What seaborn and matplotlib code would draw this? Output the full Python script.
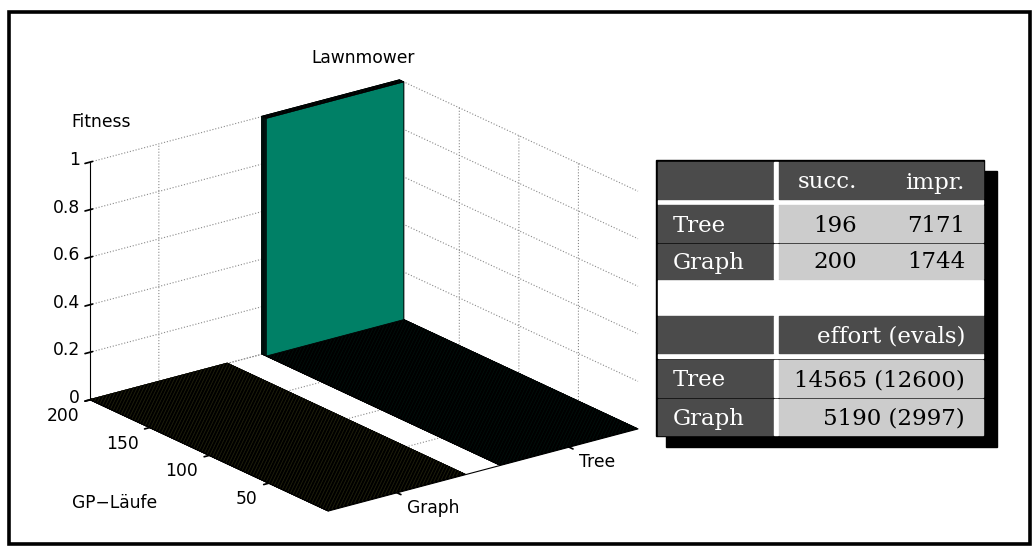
import numpy as np
import matplotlib
matplotlib.use("Agg")
import matplotlib.pyplot as plt
from matplotlib.patches import Rectangle
from mpl_toolkits.mplot3d import proj3d
import seaborn as sns

# ---------------- data ----------------
methods = ["Graph", "Tree"]              # categories along the x axis
method_colors = ["#ffff66", "#008066"]   # MATLAB "summer" end colours
n_runs = 200                             # GP runs per representation
success_runs = [200, 196]                # runs that reached fitness 0
failed_fitness = [1.0, 1.0]              # fitness of the unsuccessful runs
run_ticks = [50, 100, 150, 200]
fitness_ticks = [0, 0.2, 0.4, 0.6, 0.8, 1]
fitness_labels = ["0", "0.2", "0.4", "0.6", "0.8", "1"]

table_methods = ["Tree", "Graph"]
table_success = [196, 200]
table_improvements = [7171, 1744]
table_effort = [14565, 5190]
table_effort_median = [12600, 2997]

title = "Lawnmower"
z_title = "Fitness"
y_title = "GP\u2212Läufe"

# ---------------- style ----------------
sns.set_theme(style="white", rc={
    "text.color": "black", "axes.labelcolor": "black",
    "xtick.color": "black", "ytick.color": "black",
    "axes.edgecolor": "black", "axes.linewidth": 0.8,
    "xtick.labelsize": 12, "ytick.labelsize": 12,
    "grid.linestyle": ":", "grid.color": "#8a8a8a", "grid.linewidth": 0.8,
})
plt.rcParams["font.family"] = ["DejaVu Sans"]

W, H = 1034, 546
fig = plt.figure(figsize=(W / 100, H / 100), dpi=100)
bar_w = 0.8
label_size = 12.3


def px(x, y):
    """Pixel position (from the top-left) to figure fraction."""
    return x / W, 1 - y / H


# ---------------- 3D bar chart ----------------
ax = fig.add_axes([0.0, 0.0, 0.5, 0.5 * W / H], projection="3d",
                  proj_type="ortho", computed_zorder=True)
ax.view_init(elev=20.6, azim=-127.0)
ax.set_box_aspect((388, 396, 254))
ax.set_facecolor((1, 1, 1, 0))
for axis in (ax.xaxis, ax.yaxis, ax.zaxis):
    axis.pane.fill = False
    axis.pane.set_edgecolor((1, 1, 1, 0))

runs = np.arange(1, n_runs + 1)
for i, (ok, bad, col) in enumerate(zip(success_runs, failed_fitness, method_colors)):
    fitness = np.concatenate([np.zeros(ok), np.full(n_runs - ok, bad)])
    ax.bar3d(np.full(n_runs, i + 1 - bar_w / 2), runs - bar_w / 2,
             np.zeros(n_runs), bar_w, bar_w, fitness,
             color=col, edgecolor="black", linewidth=0.55, shade=False)

ax.set_xlim(1 - bar_w / 2, len(methods) + bar_w / 2)
ax.set_ylim(0, n_runs)
ax.set_zlim(0, 1)
x_ticks = list(range(1, len(methods) + 1))
ax.set_xticks(x_ticks, [""] * len(x_ticks))
ax.set_yticks(run_ticks, [""] * len(run_ticks))
ax.set_zticks(fitness_ticks, [""] * len(fitness_ticks))


def fit_box(ax, left_px, top_px, width_px):
    """Place the square 3D axes so that the projected data box has the given
    left edge, top edge and width (pixels, measured from the top-left)."""
    fig.canvas.draw()
    M = ax.get_proj()
    pts = []
    for x in ax.get_xlim():
        for y in ax.get_ylim():
            for z in ax.get_zlim():
                xs, ys, _ = proj3d.proj_transform(x, y, z, M)
                pts.append(ax.transData.transform((xs, ys)))
    pts = np.array(pts)
    pos = ax.get_position()
    S = pos.width * W
    cx = (pos.x0 + pos.width / 2) * W
    cy = (pos.y0 + pos.height / 2) * H
    k = width_px / (pts[:, 0].max() - pts[:, 0].min())
    S2 = S * k
    cx2 = left_px - k * (pts[:, 0].min() - cx)
    cy2 = (H - top_px) - k * (pts[:, 1].max() - cy)
    ax.set_position([(cx2 - S2 / 2) / W, (cy2 - S2 / 2) / H, S2 / W, S2 / H])


fit_box(ax, 90, 80, 548)
fit_box(ax, 90, 80, 548)
fig.canvas.draw()


def screen(x, y, z):
    """Projected pixel position (from the top-left) of a data point."""
    xs, ys, _ = proj3d.proj_transform(x, y, z, ax.get_proj())
    dx, dy = ax.transData.transform((xs, ys))
    return dx, H - dy


x0, x1 = ax.get_xlim()
y0, y1 = ax.get_ylim()
z0, z1 = ax.get_zlim()

# tick labels placed beside the projected tick positions
for z, lab in zip(fitness_ticks, fitness_labels):
    sx, sy = screen(x0, y1, z)
    fig.text(*px(sx - 10, sy - 2), lab, ha="right", va="center", fontsize=label_size)
for y in run_ticks:
    sx, sy = screen(x0, y, z0)
    fig.text(*px(sx - 11, sy + 16), str(y), ha="right", va="center", fontsize=label_size)
for x, lab in zip(x_ticks, methods):
    sx, sy = screen(x, y0, z0)
    fig.text(*px(sx + 10, sy + 15), lab, ha="left", va="center", fontsize=label_size)

fig.text(*px(363, 58), title, ha="center", va="center", fontsize=label_size)
fig.text(*px(101, 122), z_title, ha="center", va="center", fontsize=label_size)
fig.text(*px(115, 503), y_title, ha="center", va="center", fontsize=label_size)

# ---------------- summary table ----------------
tab = fig.add_axes([0, 0, 1, 1], zorder=5)
tab.set_xlim(0, W)
tab.set_ylim(H, 0)
tab.axis("off")
tab.patch.set_alpha(0)

dark, light = "#4b4b4b", "#cccccc"
tx0, tx1, ty0, ty1 = 656, 984, 160, 436
tab.add_patch(Rectangle((tx0 + 10, ty0 + 11), tx1 - tx0 + 3, ty1 - ty0, color="black"))
tab.add_patch(Rectangle((tx0, ty0), tx1 - tx0, ty1 - ty0, color="black"))

lab_x0, lab_x1 = 657.5, 772.5
sep_x0, sep_x1 = 774, 777.5
val_x0, val_x1 = 779, 982.5
row_label_x = 673
col_right = [857, 965]
table_font = 16.5

# horizontal white bands
tab.add_patch(Rectangle((tx0 + 1.5, 200), tx1 - tx0 - 3, 3.5, color="white"))
tab.add_patch(Rectangle((tx0 + 1.5, 280), tx1 - tx0 - 3, 34.5, color="white"))
tab.add_patch(Rectangle((tx0 + 1.5, 354), tx1 - tx0 - 3, 4, color="white"))


def row(r0, r1, label, values, header):
    tab.add_patch(Rectangle((lab_x0, r0), lab_x1 - lab_x0, r1 - r0, color=dark))
    tab.add_patch(Rectangle((sep_x0, r0), sep_x1 - sep_x0, r1 - r0, color="white"))
    tab.add_patch(Rectangle((val_x0, r0), val_x1 - val_x0, r1 - r0,
                            color=dark if header else light))
    base = r1 - 10
    if label:
        tab.text(row_label_x, base, label, color="white", ha="left", va="baseline",
                 fontsize=table_font, family="DejaVu Serif")
    xs = col_right[-len(values):]
    for x, v in zip(xs, values):
        tab.text(x, base, v, color="white" if header else "black", ha="right",
                 va="baseline", fontsize=table_font, family="DejaVu Serif")


row(161.5, 198.5, "", ["succ.", "impr."], True)
rows1 = [(205, 241.5), (243.5, 278.5)]
for (r0, r1), m, s, im in zip(rows1, table_methods, table_success, table_improvements):
    row(r0, r1, m, [str(s), str(im)], False)
row(316, 352.5, "", ["effort (evals)"], True)
rows2 = [(360, 396.5), (398.5, 434.5)]
for (r0, r1), m, e, em in zip(rows2, table_methods, table_effort, table_effort_median):
    row(r0, r1, m, [f"{e} ({em})"], False)

# outer frame
tab.add_patch(Rectangle((9.2, 11.7), 1021, 532, fill=False, edgecolor="black", linewidth=2.6))

fig.savefig("out.png", dpi=100)
